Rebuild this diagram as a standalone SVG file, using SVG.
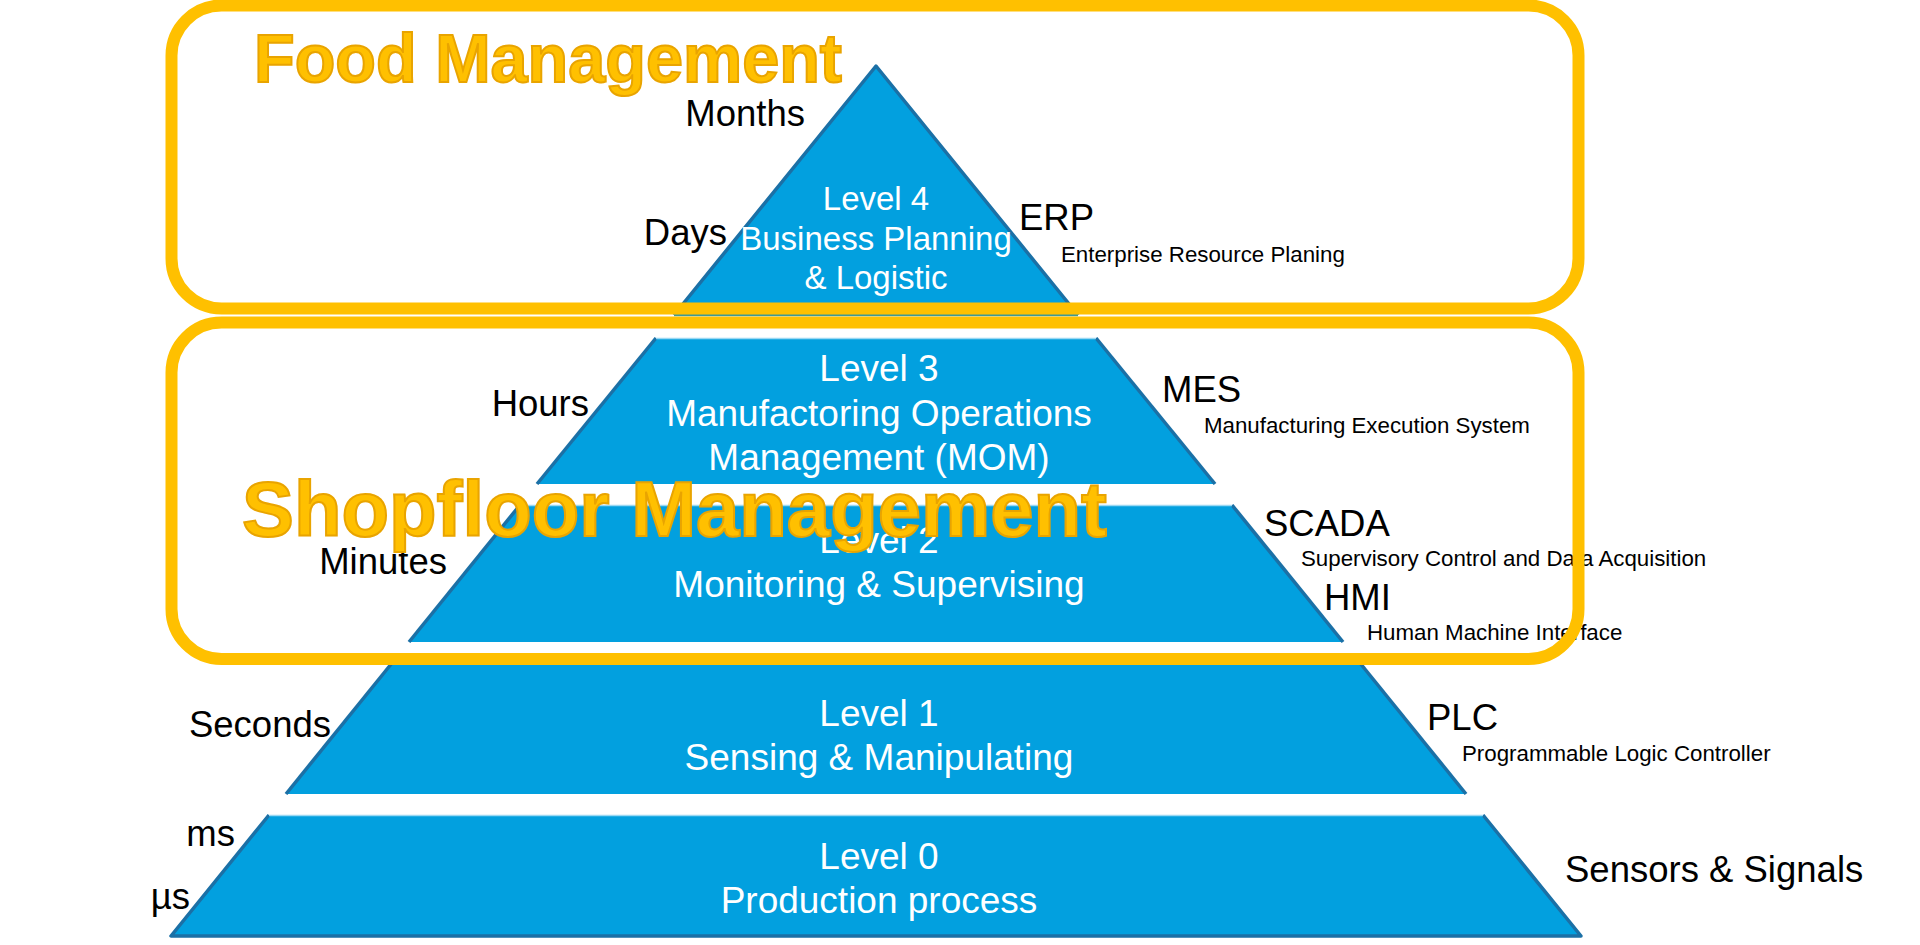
<svg xmlns="http://www.w3.org/2000/svg" width="1920" height="945" viewBox="0 0 1920 945">
<style>
.fill{fill:#02a0df;stroke:none}
.edge{fill:none;stroke:#1b70a6;stroke-width:3.5;stroke-linejoin:round}
.hl{fill:none;stroke:#9ad8f3;stroke-width:1.5}
.lv{font-family:"Liberation Sans",Arial,sans-serif;fill:#ffffff;text-anchor:middle}
.lab{font-family:"Liberation Sans",Arial,sans-serif;fill:#000000;font-size:36.5px}
.sm{font-family:"Liberation Sans",Arial,sans-serif;fill:#000000;font-size:22.3px}
.end{text-anchor:end}
.box{fill:none;stroke:#ffc000;stroke-width:12}
.title{font-family:"Liberation Sans",Arial,sans-serif;font-weight:bold;fill:#ffc000;stroke:#e9a400;stroke-width:2}
</style>
<rect x="0" y="0" width="1920" height="945" fill="#ffffff"/>
<g id="pyramid">
<g id="level4">
<polygon class="fill" points="876,66 1078,316 674,316"/>
<polyline class="edge" points="674,315 876,66 1078,315"/>
<line x1="674" y1="315" x2="1078" y2="315" stroke="#3f9a98" stroke-width="2.5"/>
<text class="lv" font-size="33" x="876" y="210">Level 4</text>
<text class="lv" font-size="33" x="876" y="250">Business Planning</text>
<text class="lv" font-size="33" x="876" y="289">&amp; Logistic</text>
</g>
<g id="level3">
<polygon class="fill" points="656,338 1096,338 1215,484 537,484"/>
<polyline class="edge" points="656,338 537,484"/>
<polyline class="edge" points="1096,338 1215,484"/>
<line class="hl" x1="656" y1="338.5" x2="1096" y2="338.5"/>
<text class="lv" font-size="37" x="879" y="381">Level 3</text>
<text class="lv" font-size="37" x="879" y="426">Manufactoring Operations</text>
<text class="lv" font-size="37" x="879" y="470">Management (MOM)</text>
</g>
<g id="level2">
<polygon class="fill" points="520,505 1232,505 1343,642 409,642"/>
<polyline class="edge" points="520,505 409,642"/>
<polyline class="edge" points="1232,505 1343,642"/>
<line class="hl" x1="520" y1="505.5" x2="1232" y2="505.5"/>
<text class="lv" font-size="37" x="879" y="553">Level 2</text>
<text class="lv" font-size="37" x="879" y="597">Monitoring &amp; Supervising</text>
</g>
<g id="level1">
<polygon class="fill" points="392,663 1360,663 1466,794 286,794"/>
<polyline class="edge" points="392,663 286,794"/>
<polyline class="edge" points="1360,663 1466,794"/>
<line class="hl" x1="392" y1="663.5" x2="1360" y2="663.5"/>
<text class="lv" font-size="37" x="879" y="726">Level 1</text>
<text class="lv" font-size="37" x="879" y="770">Sensing &amp; Manipulating</text>
</g>
<g id="level0">
<polygon class="fill" points="269,815 1483,815 1582,937 170,937"/>
<polyline class="edge" points="269,815 171,936 1581,936 1483,815"/>
<line class="hl" x1="269" y1="815.5" x2="1483" y2="815.5"/>
<text class="lv" font-size="37" x="879" y="869">Level 0</text>
<text class="lv" font-size="37" x="879" y="913">Production process</text>
</g>
</g>
<g id="time-labels">
<text class="lab end" x="805" y="126">Months</text>
<text class="lab end" x="727" y="245">Days</text>
<text class="lab end" x="589" y="416">Hours</text>
<text class="lab end" x="447" y="574">Minutes</text>
<text class="lab end" x="331" y="737">Seconds</text>
<text class="lab end" x="235" y="846">ms</text>
<text class="lab end" x="190" y="909" font-size="34">µs</text>
</g>
<g id="system-labels">
<text class="lab" x="1019" y="230">ERP</text>
<text class="sm" x="1061" y="262">Enterprise Resource Planing</text>
<text class="lab" x="1162" y="402">MES</text>
<text class="sm" x="1204" y="433">Manufacturing Execution System</text>
<text class="lab" x="1264" y="536">SCADA</text>
<text class="sm" x="1301" y="566">Supervisory Control and Data Acquisition</text>
<text class="lab" x="1324" y="610">HMI</text>
<text class="sm" x="1367" y="640">Human Machine Interface</text>
<text class="lab" x="1427" y="730">PLC</text>
<text class="sm" x="1462" y="761">Programmable Logic Controller</text>
<text class="lab" x="1565" y="882">Sensors &amp; Signals</text>
</g>
<g id="food-management">
<rect class="box" x="171.5" y="5.5" width="1407" height="303" rx="50" ry="50"/>
<text class="title" x="254" y="82" font-size="68" textLength="588" lengthAdjust="spacingAndGlyphs">Food Management</text>
</g>
<g id="shopfloor-management">
<rect class="box" x="171.5" y="322.5" width="1407" height="336.5" rx="50" ry="50"/>
<text class="title" x="242" y="536" font-size="77" textLength="865" lengthAdjust="spacingAndGlyphs">Shopfloor Management</text>
</g>
<g id="connectors"/>
</svg>
